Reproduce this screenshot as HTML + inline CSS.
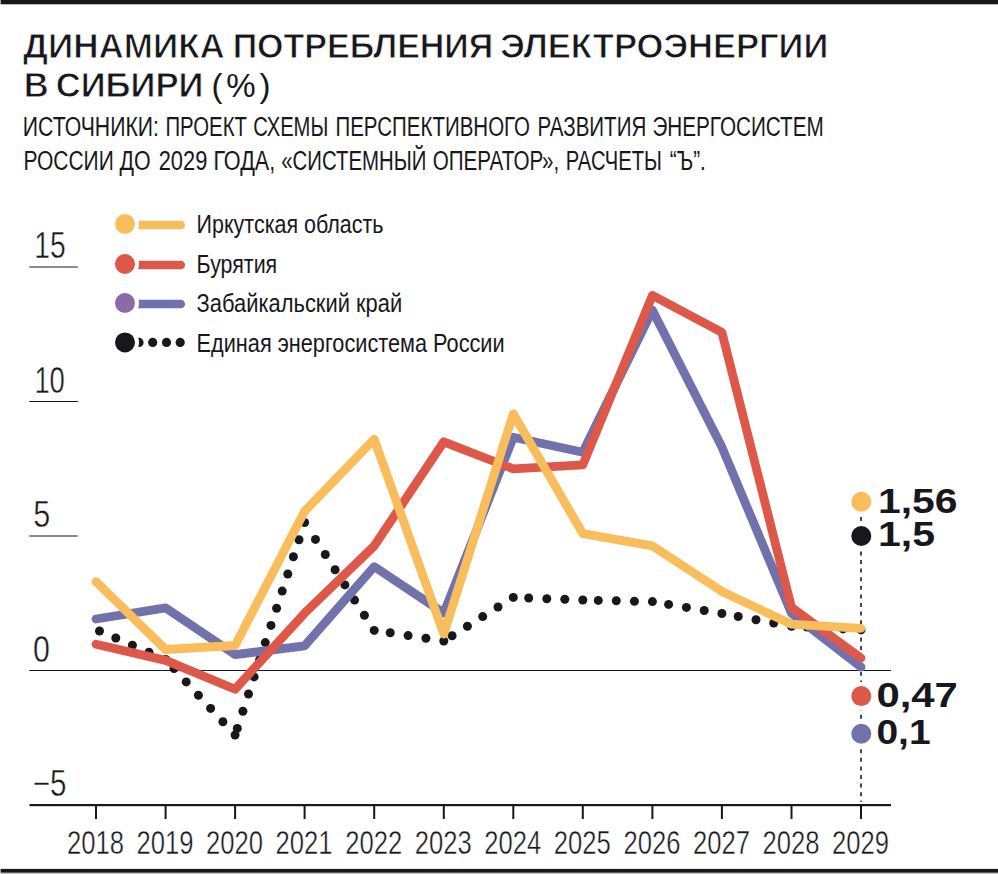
<!DOCTYPE html>
<html lang="ru"><head><meta charset="utf-8"><title>Динамика потребления электроэнергии в Сибири</title>
<style>
html,body{margin:0;padding:0;background:#fff;}
svg{display:block;font-family:"Liberation Sans", Arial, Helvetica, sans-serif;}
</style></head><body>
<svg width="998" height="874" viewBox="0 0 998 874">
<rect width="998" height="874" fill="#fff"/>
<rect x="0.6" y="0" width="998" height="4.3" fill="#18171c"/>
<rect x="0.6" y="868.9" width="998" height="3.8" fill="#18171c"/>
<rect x="0" y="873" width="998" height="1" fill="#c4c4c6"/>
<text x="22.98" y="58.1" font-size="35" font-weight="bold" text-anchor="start" fill="#18171c" textLength="201.9" lengthAdjust="spacingAndGlyphs" stroke="#fff" stroke-width="0.9">ДИНАМИКА</text>
<text x="232.68" y="58.1" font-size="35" font-weight="bold" text-anchor="start" fill="#18171c" textLength="260.59" lengthAdjust="spacingAndGlyphs" stroke="#fff" stroke-width="0.9">ПОТРЕБЛЕНИЯ</text>
<text x="500.32" y="58.1" font-size="35" font-weight="bold" text-anchor="start" fill="#18171c" textLength="327.98" lengthAdjust="spacingAndGlyphs" stroke="#fff" stroke-width="0.9">ЭЛЕКТРОЭНЕРГИИ</text>
<text x="23.65" y="97.0" font-size="35" font-weight="bold" text-anchor="start" fill="#18171c" textLength="24.91" lengthAdjust="spacingAndGlyphs" stroke="#fff" stroke-width="0.9">В</text>
<text x="55.71" y="97.0" font-size="35" font-weight="bold" text-anchor="start" fill="#18171c" textLength="147.73" lengthAdjust="spacingAndGlyphs" stroke="#fff" stroke-width="0.9">СИБИРИ</text>
<text x="22.84" y="136.0" font-size="26.8" font-weight="normal" text-anchor="start" fill="#18171c" textLength="136.11" lengthAdjust="spacingAndGlyphs">ИСТОЧНИКИ:</text>
<text x="165.48" y="136.0" font-size="26.8" font-weight="normal" text-anchor="start" fill="#18171c" textLength="81.45" lengthAdjust="spacingAndGlyphs">ПРОЕКТ</text>
<text x="253.25" y="136.0" font-size="26.8" font-weight="normal" text-anchor="start" fill="#18171c" textLength="75.05" lengthAdjust="spacingAndGlyphs">СХЕМЫ</text>
<text x="335.47" y="136.0" font-size="26.8" font-weight="normal" text-anchor="start" fill="#18171c" textLength="194.54" lengthAdjust="spacingAndGlyphs">ПЕРСПЕКТИВНОГО</text>
<text x="537.47" y="136.0" font-size="26.8" font-weight="normal" text-anchor="start" fill="#18171c" textLength="108.79" lengthAdjust="spacingAndGlyphs">РАЗВИТИЯ</text>
<text x="652.43" y="136.0" font-size="26.8" font-weight="normal" text-anchor="start" fill="#18171c" textLength="171.32" lengthAdjust="spacingAndGlyphs">ЭНЕРГОСИСТЕМ</text>
<text x="23.43" y="170.4" font-size="26.8" font-weight="normal" text-anchor="start" fill="#18171c" textLength="90.36" lengthAdjust="spacingAndGlyphs">РОССИИ</text>
<text x="119.42" y="170.4" font-size="26.8" font-weight="normal" text-anchor="start" fill="#18171c" textLength="31.12" lengthAdjust="spacingAndGlyphs">ДО</text>
<text x="158.68" y="170.4" font-size="26.8" font-weight="normal" text-anchor="start" fill="#18171c" textLength="48.64" lengthAdjust="spacingAndGlyphs">2029</text>
<text x="213.39" y="170.4" font-size="26.8" font-weight="normal" text-anchor="start" fill="#18171c" textLength="61.86" lengthAdjust="spacingAndGlyphs">ГОДА,</text>
<text x="281.24" y="170.4" font-size="26.8" font-weight="normal" text-anchor="start" fill="#18171c" textLength="145.31" lengthAdjust="spacingAndGlyphs">«СИСТЕМНЫЙ</text>
<text x="432.65" y="170.4" font-size="26.8" font-weight="normal" text-anchor="start" fill="#18171c" textLength="126.54" lengthAdjust="spacingAndGlyphs">ОПЕРАТОР»,</text>
<text x="565.77" y="170.4" font-size="26.8" font-weight="normal" text-anchor="start" fill="#18171c" textLength="96.11" lengthAdjust="spacingAndGlyphs">РАСЧЕТЫ</text>
<text x="669.78" y="170.4" font-size="26.8" font-weight="normal" text-anchor="start" fill="#18171c" textLength="36.13" lengthAdjust="spacingAndGlyphs">“Ъ”.</text>
<text x="211.5" y="96.6" font-size="33" font-weight="normal" text-anchor="start" fill="#18171c" textLength="59" lengthAdjust="spacing">(%)</text>
<rect x="29.2" y="266.5" width="48.6" height="1" fill="#18171c"/>
<rect x="29.2" y="401.0" width="48.6" height="1" fill="#18171c"/>
<rect x="29.2" y="535.5" width="48.6" height="1" fill="#18171c"/>
<rect x="29.2" y="670" width="861.8" height="1" fill="#18171c"/>
<rect x="29.5" y="804" width="861.5" height="2.2" fill="#18171c"/>
<rect x="95.0" y="805" width="2" height="14" fill="#18171c"/>
<text x="95.5" y="854.2" font-size="33.5" font-weight="normal" text-anchor="middle" fill="#18171c" textLength="57" lengthAdjust="spacingAndGlyphs" stroke="#fff" stroke-width="0.45">2018</text>
<rect x="164.6" y="805" width="2" height="14" fill="#18171c"/>
<text x="165.1" y="854.2" font-size="33.5" font-weight="normal" text-anchor="middle" fill="#18171c" textLength="57" lengthAdjust="spacingAndGlyphs" stroke="#fff" stroke-width="0.45">2019</text>
<rect x="234.1" y="805" width="2" height="14" fill="#18171c"/>
<text x="234.6" y="854.2" font-size="33.5" font-weight="normal" text-anchor="middle" fill="#18171c" textLength="57" lengthAdjust="spacingAndGlyphs" stroke="#fff" stroke-width="0.45">2020</text>
<rect x="303.6" y="805" width="2" height="14" fill="#18171c"/>
<text x="304.1" y="854.2" font-size="33.5" font-weight="normal" text-anchor="middle" fill="#18171c" textLength="57" lengthAdjust="spacingAndGlyphs" stroke="#fff" stroke-width="0.45">2021</text>
<rect x="373.2" y="805" width="2" height="14" fill="#18171c"/>
<text x="373.7" y="854.2" font-size="33.5" font-weight="normal" text-anchor="middle" fill="#18171c" textLength="57" lengthAdjust="spacingAndGlyphs" stroke="#fff" stroke-width="0.45">2022</text>
<rect x="442.8" y="805" width="2" height="14" fill="#18171c"/>
<text x="443.2" y="854.2" font-size="33.5" font-weight="normal" text-anchor="middle" fill="#18171c" textLength="57" lengthAdjust="spacingAndGlyphs" stroke="#fff" stroke-width="0.45">2023</text>
<rect x="512.3" y="805" width="2" height="14" fill="#18171c"/>
<text x="512.8" y="854.2" font-size="33.5" font-weight="normal" text-anchor="middle" fill="#18171c" textLength="57" lengthAdjust="spacingAndGlyphs" stroke="#fff" stroke-width="0.45">2024</text>
<rect x="581.8" y="805" width="2" height="14" fill="#18171c"/>
<text x="582.3" y="854.2" font-size="33.5" font-weight="normal" text-anchor="middle" fill="#18171c" textLength="57" lengthAdjust="spacingAndGlyphs" stroke="#fff" stroke-width="0.45">2025</text>
<rect x="651.4" y="805" width="2" height="14" fill="#18171c"/>
<text x="651.9" y="854.2" font-size="33.5" font-weight="normal" text-anchor="middle" fill="#18171c" textLength="57" lengthAdjust="spacingAndGlyphs" stroke="#fff" stroke-width="0.45">2026</text>
<rect x="720.9" y="805" width="2" height="14" fill="#18171c"/>
<text x="721.4" y="854.2" font-size="33.5" font-weight="normal" text-anchor="middle" fill="#18171c" textLength="57" lengthAdjust="spacingAndGlyphs" stroke="#fff" stroke-width="0.45">2027</text>
<rect x="790.5" y="805" width="2" height="14" fill="#18171c"/>
<text x="791.0" y="854.2" font-size="33.5" font-weight="normal" text-anchor="middle" fill="#18171c" textLength="57" lengthAdjust="spacingAndGlyphs" stroke="#fff" stroke-width="0.45">2028</text>
<rect x="860.0" y="805" width="2" height="14" fill="#18171c"/>
<text x="860.5" y="854.2" font-size="33.5" font-weight="normal" text-anchor="middle" fill="#18171c" textLength="57" lengthAdjust="spacingAndGlyphs" stroke="#fff" stroke-width="0.45">2029</text>
<text x="34.34" y="258.2" font-size="36.2" font-weight="normal" text-anchor="start" fill="#18171c" textLength="31.45" lengthAdjust="spacingAndGlyphs" stroke="#fff" stroke-width="0.45">15</text>
<text x="34.39" y="392.7" font-size="36.2" font-weight="normal" text-anchor="start" fill="#18171c" textLength="30.48" lengthAdjust="spacingAndGlyphs" stroke="#fff" stroke-width="0.45">10</text>
<text x="33.16" y="527.2" font-size="36.2" font-weight="normal" text-anchor="start" fill="#18171c" textLength="17.01" lengthAdjust="spacingAndGlyphs" stroke="#fff" stroke-width="0.45">5</text>
<text x="32.96" y="661.7" font-size="36.2" font-weight="normal" text-anchor="start" fill="#18171c" textLength="16.9" lengthAdjust="spacingAndGlyphs" stroke="#fff" stroke-width="0.45">0</text>
<text x="32.68" y="796.2" font-size="36.2" font-weight="normal" text-anchor="start" fill="#18171c" textLength="33.74" lengthAdjust="spacingAndGlyphs" stroke="#fff" stroke-width="0.45">−5</text>
<line x1="861.0" y1="517" x2="861.0" y2="802" stroke="#333" stroke-width="1.8" stroke-dasharray="4 4.6"/>
<g fill="#18171c"><circle cx="99.5" cy="631.0" r="4.5"/><circle cx="115.8" cy="638.0" r="4.5"/><circle cx="132.4" cy="645.2" r="4.5"/><circle cx="149.0" cy="652.3" r="4.5"/><circle cx="165.6" cy="659.5" r="4.5"/><circle cx="174.0" cy="668.6" r="4.5"/><circle cx="186.2" cy="681.9" r="4.5"/><circle cx="198.4" cy="695.2" r="4.5"/><circle cx="210.6" cy="708.4" r="4.5"/><circle cx="222.9" cy="721.7" r="4.5"/><circle cx="235.1" cy="735.0" r="4.5"/><circle cx="237.3" cy="728.4" r="4.5"/><circle cx="242.9" cy="711.2" r="4.5"/><circle cx="248.5" cy="694.0" r="4.5"/><circle cx="254.1" cy="676.9" r="4.5"/><circle cx="259.7" cy="659.7" r="4.5"/><circle cx="265.3" cy="642.6" r="4.5"/><circle cx="271.0" cy="625.4" r="4.5"/><circle cx="276.6" cy="608.3" r="4.5"/><circle cx="282.2" cy="591.1" r="4.5"/><circle cx="287.8" cy="574.0" r="4.5"/><circle cx="293.4" cy="556.8" r="4.5"/><circle cx="299.0" cy="539.7" r="4.5"/><circle cx="304.6" cy="522.5" r="4.5"/><circle cx="315.5" cy="539.4" r="4.5"/><circle cx="325.3" cy="554.5" r="4.5"/><circle cx="335.1" cy="569.7" r="4.5"/><circle cx="344.9" cy="584.9" r="4.5"/><circle cx="354.6" cy="600.1" r="4.5"/><circle cx="364.4" cy="615.2" r="4.5"/><circle cx="374.2" cy="630.4" r="4.5"/><circle cx="390.2" cy="632.8" r="4.5"/><circle cx="408.1" cy="635.6" r="4.5"/><circle cx="425.9" cy="638.3" r="4.5"/><circle cx="443.8" cy="641.0" r="4.5"/><circle cx="452.1" cy="635.7" r="4.5"/><circle cx="467.4" cy="626.2" r="4.5"/><circle cx="482.7" cy="616.6" r="4.5"/><circle cx="498.0" cy="607.0" r="4.5"/><circle cx="513.3" cy="597.4" r="4.5"/><circle cx="528.7" cy="598.0" r="4.5"/><circle cx="546.8" cy="598.7" r="4.5"/><circle cx="564.8" cy="599.3" r="4.5"/><circle cx="582.8" cy="600.0" r="4.5"/><circle cx="598.3" cy="600.4" r="4.5"/><circle cx="616.3" cy="600.8" r="4.5"/><circle cx="634.4" cy="601.2" r="4.5"/><circle cx="652.4" cy="601.6" r="4.5"/><circle cx="668.6" cy="604.4" r="4.5"/><circle cx="686.4" cy="607.4" r="4.5"/><circle cx="704.2" cy="610.5" r="4.5"/><circle cx="721.9" cy="613.5" r="4.5"/><circle cx="738.2" cy="616.5" r="4.5"/><circle cx="756.0" cy="619.7" r="4.5"/><circle cx="773.7" cy="623.0" r="4.5"/><circle cx="791.5" cy="626.2" r="4.5"/><circle cx="807.0" cy="627.0" r="4.5"/><circle cx="825.0" cy="628.0" r="4.5"/><circle cx="843.0" cy="628.9" r="4.5"/><circle cx="861.0" cy="629.9" r="4.5"/></g>
<polyline points="96.0,619.0 165.6,607.8 235.1,654.6 304.6,645.8 374.2,566.7 443.8,613.0 513.3,437.3 582.8,452.2 652.4,310.2 721.9,447.1 791.5,613.3 861.0,667.0" fill="none" stroke="#7171ab" stroke-width="8.8" stroke-linecap="round" stroke-linejoin="round"/>
<polyline points="96.0,644.2 165.6,660.4 235.1,689.2 304.6,613.2 374.2,546.0 443.8,441.8 513.3,468.9 582.8,464.8 652.4,295.4 721.9,332.3 791.5,607.4 861.0,658.0" fill="none" stroke="#de584a" stroke-width="8.8" stroke-linecap="round" stroke-linejoin="round"/>
<polyline points="96.0,581.7 165.6,649.5 235.1,645.5 304.6,511.3 374.2,439.3 443.8,634.0 513.3,413.8 582.8,533.6 652.4,545.9 721.9,591.4 791.5,624.2 861.0,628.3" fill="none" stroke="#f9bd5c" stroke-width="8.8" stroke-linecap="round" stroke-linejoin="round"/>
<circle cx="861.3" cy="501.8" r="12" fill="#f9bd5c" stroke="#fff" stroke-width="4"/>
<text x="878" y="512.6" font-size="35" font-weight="bold" text-anchor="start" fill="#18171c" textLength="79.5" lengthAdjust="spacingAndGlyphs">1,56</text>
<circle cx="861.3" cy="536" r="12" fill="#18171c" stroke="#fff" stroke-width="4"/>
<text x="878" y="545.8" font-size="35" font-weight="bold" text-anchor="start" fill="#18171c" textLength="57" lengthAdjust="spacingAndGlyphs">1,5</text>
<circle cx="861.3" cy="696.1" r="12" fill="#de584a" stroke="#fff" stroke-width="4"/>
<text x="876.4" y="706.9" font-size="35" font-weight="bold" text-anchor="start" fill="#18171c" textLength="81.5" lengthAdjust="spacingAndGlyphs">0,47</text>
<circle cx="861.3" cy="733.8" r="12" fill="#7171ab" stroke="#fff" stroke-width="4"/>
<text x="876.4" y="743.8" font-size="35" font-weight="bold" text-anchor="start" fill="#18171c" textLength="54.2" lengthAdjust="spacingAndGlyphs">0,1</text>
<line x1="137" y1="225.0" x2="180.8" y2="225.0" stroke="#f9bd5c" stroke-width="8.6" stroke-linecap="round"/>
<circle cx="125" cy="224" r="12" fill="#f9bd5c" stroke="#fff" stroke-width="4"/>
<text x="196.6" y="233.4" font-size="25" font-weight="normal" text-anchor="start" fill="#18171c" textLength="186.9" lengthAdjust="spacingAndGlyphs">Иркутская область</text>
<line x1="137" y1="265.0" x2="180.8" y2="265.0" stroke="#de584a" stroke-width="8.6" stroke-linecap="round"/>
<circle cx="125" cy="264" r="12" fill="#de584a" stroke="#fff" stroke-width="4"/>
<text x="196.6" y="273.4" font-size="25" font-weight="normal" text-anchor="start" fill="#18171c" textLength="80.6" lengthAdjust="spacingAndGlyphs">Бурятия</text>
<line x1="137" y1="304.0" x2="180.8" y2="304.0" stroke="#7171ab" stroke-width="8.6" stroke-linecap="round"/>
<circle cx="125" cy="303" r="12" fill="#8a6aa8" stroke="#fff" stroke-width="4"/>
<text x="196.6" y="312.4" font-size="25" font-weight="normal" text-anchor="start" fill="#18171c" textLength="205.6" lengthAdjust="spacingAndGlyphs">Забайкальский край</text>
<circle cx="139.0" cy="342.4" r="4.6" fill="#18171c"/>
<circle cx="152.7" cy="342.4" r="4.6" fill="#18171c"/>
<circle cx="166.5" cy="342.4" r="4.6" fill="#18171c"/>
<circle cx="180.2" cy="342.4" r="4.6" fill="#18171c"/>
<circle cx="125" cy="342.4" r="12" fill="#18171c" stroke="#fff" stroke-width="4"/>
<text x="196.6" y="351.79999999999995" font-size="25" font-weight="normal" text-anchor="start" fill="#18171c" textLength="308" lengthAdjust="spacingAndGlyphs">Единая энергосистема России</text>
</svg>
</body></html>
